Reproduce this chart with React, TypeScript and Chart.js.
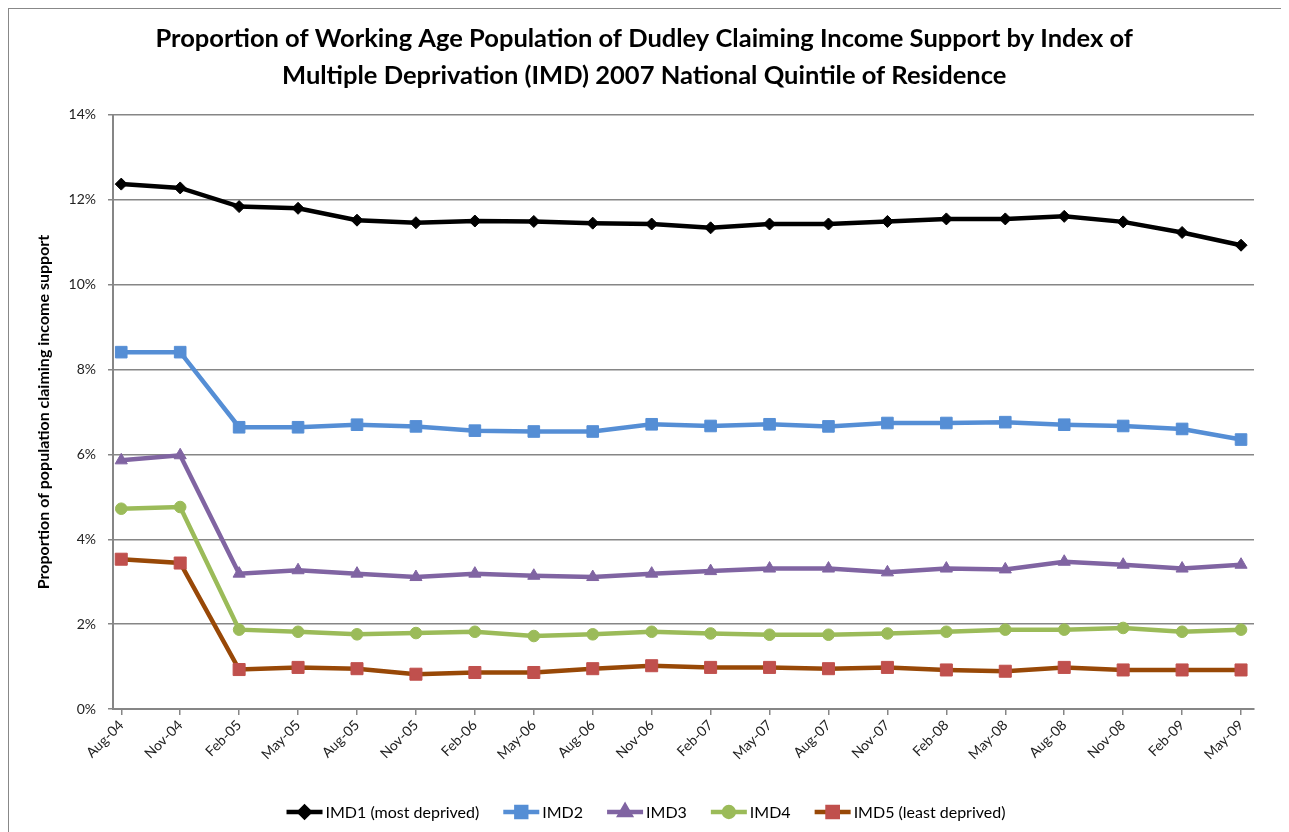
import React, { useEffect, useRef } from "react";
import { Chart, registerables } from "chart.js";
import { drawPoint } from "chart.js/helpers";

Chart.register(...registerables);

const FONT = "Lato, 'Open Sans', sans-serif";

const titleLines = [
  "Proportion of Working Age Population of Dudley Claiming Income Support by Index of",
  "Multiple Deprivation (IMD) 2007 National Quintile of Residence",
];
const yAxisTitle = "Proportion of population claiming income support";

const categories = [
  "Aug-04", "Nov-04", "Feb-05", "May-05", "Aug-05", "Nov-05", "Feb-06", "May-06", "Aug-06", "Nov-06",
  "Feb-07", "May-07", "Aug-07", "Nov-07", "Feb-08", "May-08", "Aug-08", "Nov-08", "Feb-09", "May-09",
];

const seriesNames = ["IMD1 (most deprived)", "IMD2", "IMD3", "IMD4", "IMD5 (least deprived)"];

const imd1 = [12.37, 12.28, 11.84, 11.8, 11.52, 11.46, 11.5, 11.49, 11.45, 11.43, 11.34, 11.43, 11.43, 11.49, 11.55, 11.55, 11.61, 11.48, 11.23, 10.93];
const imd2 = [8.41, 8.41, 6.64, 6.64, 6.7, 6.66, 6.56, 6.54, 6.54, 6.71, 6.67, 6.71, 6.66, 6.74, 6.74, 6.76, 6.7, 6.67, 6.6, 6.35];
const imd3 = [5.86, 5.98, 3.19, 3.27, 3.19, 3.11, 3.19, 3.14, 3.11, 3.19, 3.25, 3.31, 3.31, 3.22, 3.31, 3.29, 3.47, 3.4, 3.31, 3.4];
const imd4 = [4.72, 4.76, 1.87, 1.82, 1.76, 1.79, 1.82, 1.72, 1.76, 1.82, 1.78, 1.75, 1.75, 1.78, 1.82, 1.87, 1.87, 1.91, 1.82, 1.87];
const imd5 = [3.53, 3.44, 0.93, 0.98, 0.95, 0.82, 0.86, 0.86, 0.95, 1.02, 0.98, 0.98, 0.95, 0.98, 0.92, 0.89, 0.98, 0.92, 0.92, 0.92];

const yTicks = [0, 2, 4, 6, 8, 10, 12, 14];

const GRID = "#868686";

const lineLegend = {
  id: "lineLegend",
  afterDraw(chart: any) {
    const ctx = chart.ctx;
    ctx.save();
    ctx.font = `16px ${FONT}`;
    const lineW = 36;
    const gap = 3;
    const itemGap = 24;
    const dss = chart.data.datasets;
    const widths = dss.map((ds: any) => lineW + gap + ctx.measureText(ds.label).width);
    const total = widths.reduce((a: number, b: number) => a + b, 0) + itemGap * (dss.length - 1);
    let x = chart.width / 2 - total / 2;
    const y = chart.height - 25;
    dss.forEach((ds: any, i: number) => {
      ctx.strokeStyle = ds.borderColor;
      ctx.lineWidth = ds.borderWidth;
      ctx.beginPath();
      ctx.moveTo(x, y);
      ctx.lineTo(x + lineW, y);
      ctx.stroke();
      ctx.fillStyle = ds.pointBackgroundColor;
      ctx.strokeStyle = ds.pointBorderColor;
      drawPoint(ctx, { pointStyle: ds.pointStyle, radius: ds.pointRadius * 0.85, rotation: 0, borderWidth: 1 }, x + lineW / 2, y);
      ctx.fillStyle = "#000";
      ctx.textAlign = "left";
      ctx.textBaseline = "middle";
      ctx.fillText(ds.label, x + lineW + gap, y + 1);
      x += widths[i] + itemGap;
    });
    ctx.restore();
  },
};

function makeDataset(label: string, values: number[], line: string, marker: string, style: string, radius: number) {
  return {
    label,
    data: values.map((v, i) => ({ x: i, y: v })),
    borderColor: line,
    borderWidth: 4.5,
    pointStyle: style,
    pointRadius: radius,
    pointHoverRadius: radius,
    pointBackgroundColor: marker,
    pointBorderColor: marker,
    pointBorderWidth: 1,
    tension: 0,
    fill: false,
  };
}

export default function App() {
  const ref = useRef<HTMLCanvasElement | null>(null);

  useEffect(() => {
    document.documentElement.style.overflow = "hidden";
    const canvas = ref.current;
    if (!canvas) return;
    const chart = new Chart(canvas, {
      type: "line",
      data: {
        datasets: [
          makeDataset(seriesNames[0], imd1, "#000000", "#000000", "rectRot", 6),
          makeDataset(seriesNames[1], imd2, "#558ED5", "#558ED5", "rect", 8.2),
          makeDataset(seriesNames[2], imd3, "#8064A2", "#8064A2", "triangle", 7),
          makeDataset(seriesNames[3], imd4, "#9BBB59", "#9BBB59", "circle", 5.8),
          makeDataset(seriesNames[4], imd5, "#984807", "#C0504D", "rect", 8.5),
        ] as any,
      },
      options: {
        animation: false,
        responsive: false,
        maintainAspectRatio: false,
        layout: { padding: { left: 25.4, right: 29, top: 0, bottom: 50 } },
        plugins: {
          legend: { display: false },
          tooltip: { enabled: false },
          title: {
            display: true,
            text: titleLines,
            color: "#000",
            font: { family: FONT, size: 25.5, weight: "bold", lineHeight: 1.45 },
            padding: { top: 11, bottom: 21 },
          },
        },
        scales: {
          x: {
            type: "linear",
            min: -0.14,
            max: 19.22,
            afterBuildTicks: (s: any) => {
              s.ticks = categories.map((_, i) => ({ value: i }));
            },
            afterFit: (s: any) => {
              s.height = 78;
            },
            ticks: {
              autoSkip: false,
              minRotation: 45,
              maxRotation: 45,
              padding: 2,
              color: "#222",
              font: { family: FONT, size: 14 },
              callback: (_v: any, i: number) => categories[i],
            },
            grid: { drawOnChartArea: false, drawTicks: true, tickLength: 6, color: GRID, lineWidth: 1.5 },
            border: { color: GRID, width: 2 },
          },
          y: {
            min: 0,
            max: 14,
            afterBuildTicks: (s: any) => {
              s.ticks = yTicks.map((v) => ({ value: v }));
            },
            afterFit: (s: any) => {
              s.width = 78.6;
            },
            ticks: {
              padding: 12,
              color: "#222",
              font: { family: FONT, size: 14 },
              callback: (v: any) => `${v}%`,
            },
            grid: { color: GRID, lineWidth: 1.5, tickLength: 5, drawTicks: true },
            border: { color: GRID, width: 2 },
            title: {
              display: true,
              text: yAxisTitle,
              color: "#000",
              font: { family: FONT, size: 16, weight: "bold" },
              padding: { top: 0, bottom: 0 },
            },
          },
        },
      } as any,
      plugins: [lineLegend],
    });
    return () => chart.destroy();
  }, []);

  return (
    <div
      style={{
        width: 1276,
        height: 830,
        border: "1px solid #888",
        boxSizing: "border-box",
        background: "#fff",
      }}
    >
      <canvas ref={ref} width={1274} height={828} style={{ display: "block", width: 1274, height: 828 }} />
    </div>
  );
}
